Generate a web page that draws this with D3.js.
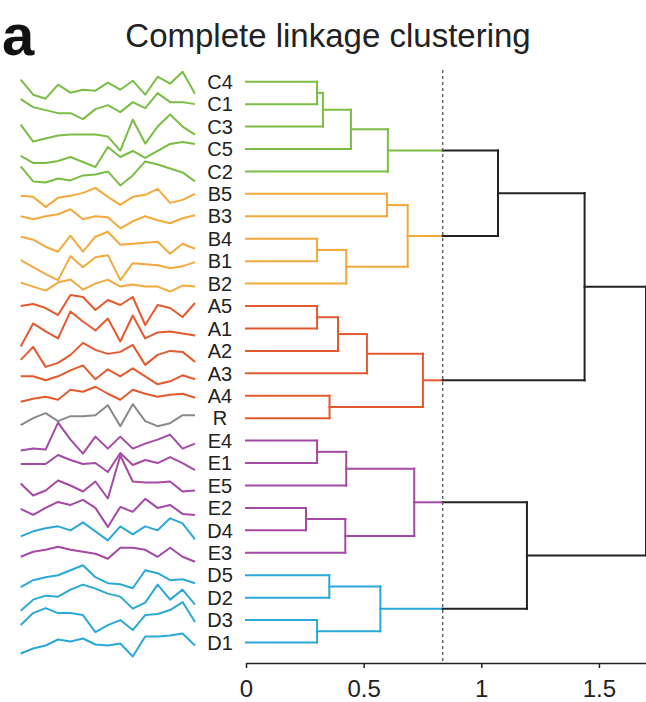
<!DOCTYPE html>
<html><head><meta charset="utf-8">
<script src="https://cdn.jsdelivr.net/npm/d3@7"></script>
<style>body{margin:0;background:#fff;} svg{display:block;font-family:"Liberation Sans",Arial,Helvetica,sans-serif;}</style>
</head><body><svg id="chart" width="646" height="702"></svg>
<script>
// ---- data ----
const leaves = ["C4","C1","C3","C5","C2","B5","B3","B4","B1","B2","A5","A1","A2","A3","A4","R","E4","E1","E5","E2","D4","E3","D5","D2","D3","D1"];

const sC4 = [2,-13,-17,-3,-11,-8,-9,-1,-8,1,-13,5,-2,10,-12];
const sC1 = [5,-3,-6,-9,-9,-15,-5,-1,-8,2,-4,11,2,2,0];
const sC3 = [2,-15,-12,-9,-8,-8,-8,-10,-24,7,-17,0,12,0,-8];
const sC5 = [-7,-14,-14,-12,-8,-13,-18,2,-8,-2,-9,-2,5,7,5];
const sC2 = [5,-10,-11,-7,-9,-4,-3,0,-14,-4,10,7,3,-1,-10];
const sB5 = [-2,-3,-13,-4,-2,1,6,-3,-11,-3,-1,5,-9,-6,0];
const sB3 = [0,-3,0,2,7,-3,0,-1,-12,-5,0,-4,-7,-2,1];
const sB4 = [2,-1,-8,-13,3,-13,2,7,-6,-5,-4,-3,-15,-5,-10];
const sB1 = [1,-6,-13,-19,5,-6,4,6,-19,-2,-3,-4,-7,-5,-1];
const sB2 = [1,-3,-7,1,4,-6,0,4,-3,-1,-3,-3,-8,-2,-3];
const sA5 = [0,2,-2,-9,11,9,-4,6,1,9,-19,1,-2,-11,3];
const sA1 = [-18,5,-3,-10,17,7,-2,10,-13,13,-10,-4,-3,-5,-7];
const sA2 = [-9,4,-16,-12,-4,8,1,-3,-1,6,-14,-4,0,-1,-11];
const sA3 = [-3,-3,-7,-3,3,8,-6,4,-3,5,-3,-11,-8,-2,-6];
const sA4 = [-6,-3,-1,-4,6,4,9,2,-4,6,2,-1,1,2,-2];
const sR  = [-7,0,5,-3,2,2,3,13,-8,14,-3,-8,-5,3,3];
const sE4 = [-10,-8,-9,18,1,-13,4,-8,4,-8,-3,1,6,-8,-3];
const sE1 = [-1,-1,-1,8,3,-1,0,-9,10,-2,3,0,6,0,-7];
const sE5 = [2,-10,-5,5,0,-6,4,-13,30,4,3,3,4,-6,-5];
const sE2 = [-1,-7,0,6,3,8,0,-19,1,-4,9,0,3,-6,-7];
const sD4 = [-6,-1,2,4,0,8,-1,-10,4,-4,4,0,12,7,-9];
const sE3 = [-4,1,3,6,3,1,-1,-6,5,5,3,-4,5,-4,-9];
const sD5 = [-12,-5,-2,0,5,10,-2,-8,-9,-13,5,2,-5,-4,-8];
const sD2 = [-13,-2,2,1,8,13,9,4,1,-11,-5,13,-2,8,-7];
const sD3 = [-5,7,12,7,7,5,-12,-5,0,-10,5,6,10,18,-2];
const sD1 = [-11,-6,-3,3,1,4,-2,-3,-1,-14,6,6,7,9,-3];

// linkage: merge i creates node "m(i+1)"
const mergeLeft   = ["C4","m1","m2","m3","B5","B4","m6","m5","A5","m9","m10","A4","m11","E4","m14","E2","m16","m15","D5","D3","m19","m4","m22","m18","m23"];
const mergeRight  = ["C1","C3","C5","C2","B3","B1","B2","m7","A1","A2","A3","R","m12","E1","E5","D4","E3","m17","D2","D1","m20","m8","m13","m21","m24"];
const mergeHeight = [0.302,0.327,0.446,0.603,0.599,0.302,0.426,0.687,0.302,0.391,0.514,0.355,0.752,0.302,0.426,0.255,0.422,0.715,0.354,0.302,0.571,1.071,1.439,1.194,1.70];

const cutoff = 0.836;
const axisTicks = [0, 0.5, 1, 1.5];
const groupColors = {C:"#7bbd44", B:"#f3a93b", A:"#e45a2e", R:"#8a8a8a", E:"#a449a4", D:"#2ba8d7"};
const linkBlack = "#222";

// ---- drawing ----
const svg = d3.select("#chart");
const series = {C4:sC4,C1:sC1,C3:sC3,C5:sC5,C2:sC2,B5:sB5,B3:sB3,B4:sB4,B1:sB1,B2:sB2,A5:sA5,A1:sA1,A2:sA2,A3:sA3,A4:sA4,R:sR,E4:sE4,E1:sE1,E5:sE5,E2:sE2,D4:sD4,E3:sE3,D5:sD5,D2:sD2,D3:sD3,D1:sD1};

const x = d3.scaleLinear().domain([0, 1.7]).range([246, 646]);
const y = d3.scalePoint().domain(leaves).range([81.7, 642.5]);
const sx = d3.scaleLinear().domain([0, 14]).range([20.7, 195]);
const sy = d3.scaleLinear().domain([-20, 20]).range([20, -20]);
const grp = n => n === "R" ? "R" : n[0];

// title
svg.append("text").attr("x", 2).attr("y", 55).attr("font-size", 58).attr("font-weight", "bold").attr("fill", "#111").text("a");
svg.append("text").attr("x", 328).attr("y", 47).attr("text-anchor", "middle").attr("font-size", 33).attr("fill", "#222").text("Complete linkage clustering");

// sparklines
const line = d3.line().x((d, i) => sx(i));
leaves.forEach(n => {
  const cy = y(n);
  svg.append("path").datum(series[n])
    .attr("d", line.y(d => cy + sy(d)))
    .attr("fill", "none").attr("stroke", groupColors[grp(n)])
    .attr("stroke-width", 2).attr("stroke-linejoin", "round");
});

// leaf labels
svg.append("g").selectAll("text").data(leaves).join("text")
  .attr("x", 220).attr("y", d => y(d)).attr("dy", "0.36em")
  .attr("text-anchor", "middle").attr("font-size", 20).attr("fill", "#222")
  .text(d => d);

// build tree
const nodes = {};
leaves.forEach(n => nodes[n] = {y: y(n), h: 0, first: n, leaf: true});
mergeHeight.forEach((h, i) => {
  const a = nodes[mergeLeft[i]], b = nodes[mergeRight[i]];
  const color = h < cutoff ? groupColors[a.first[0]] : null;
  nodes["m" + (i + 1)] = {y: (a.y + b.y) / 2, h, first: a.first, color, a, b};
});

const g = svg.append("g").attr("fill", "none").attr("stroke-width", 2).attr("stroke-linecap", "square");
function seg(x1, y1, x2, y2, c) {
  g.append("line").attr("x1", x1).attr("y1", y1).attr("x2", x2).attr("y2", y2).attr("stroke", c);
}
mergeHeight.forEach((h, i) => {
  const nd = nodes["m" + (i + 1)];
  const c = nd.color || linkBlack;
  [nd.a, nd.b].forEach(ch => {
    if (!nd.color && ch.color) {
      seg(x(ch.h), ch.y, x(cutoff), ch.y, ch.color);
      seg(x(cutoff), ch.y, x(h), ch.y, linkBlack);
    } else {
      seg(x(ch.h), ch.y, x(h), ch.y, c);
    }
  });
  seg(x(h), nd.a.y, x(h), nd.b.y, c);
});

// cutoff line
svg.append("line").attr("x1", x(cutoff)).attr("x2", x(cutoff)).attr("y1", 70).attr("y2", 663)
  .attr("stroke", "#666").attr("stroke-width", 1.5).attr("stroke-dasharray", "3,3");

// axis
const ax = svg.append("g").attr("transform", "translate(0,663)")
  .call(d3.axisBottom(x).tickValues(axisTicks).tickSize(5).tickSizeOuter(0).tickFormat(d3.format("")));
ax.select(".domain").attr("stroke", "#222").attr("stroke-width", 1.5);
ax.selectAll(".tick line").attr("stroke", "#222").attr("stroke-width", 1.5);
ax.selectAll(".tick text").attr("font-size", 24).attr("fill", "#222").attr("y", 17)
  .attr("font-family", "'Liberation Sans', Arial, sans-serif");
</script></body></html>
